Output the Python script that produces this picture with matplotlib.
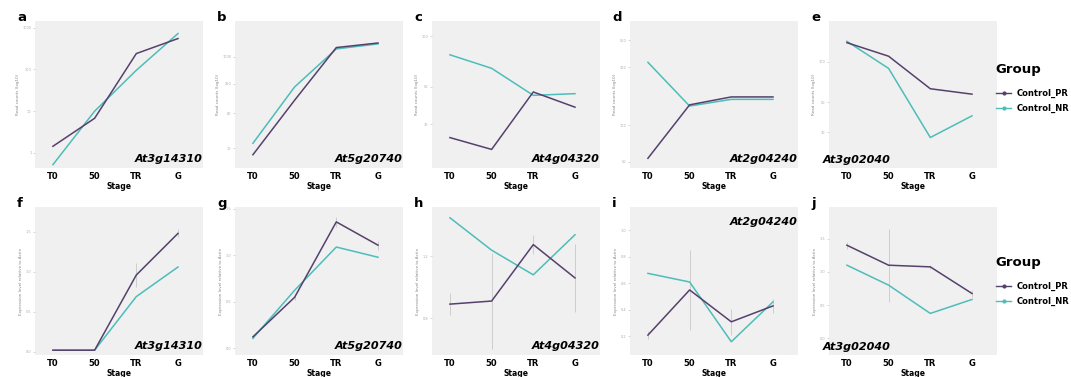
import matplotlib
matplotlib.use("Agg")
import matplotlib.pyplot as plt
import numpy as np

stages = ["T0", "50", "TR", "G"]
groups = ["Control_PR", "Control_NR"]
colors = {"Control_PR": "#56406C", "Control_NR": "#4DBDB9"}

# Row 1: read counts (log10 scale values)
genes_top = ["At3g14310", "At5g20740", "At4g04320", "At2g04240", "At3g02040"]
pr_top = [
    [0.16, 0.83, 2.38, 2.74],
    [0.86, 2.05, 3.20, 3.30],
    [1.40, 1.33, 1.67, 1.58],
    [1.73, 2.17, 2.235, 2.235],
    [2.14, 2.04, 1.80, 1.76],
]
nr_top = [
    [-0.28, 1.00, 1.98, 2.86],
    [1.11, 2.34, 3.17, 3.28],
    [1.89, 1.81, 1.65, 1.66],
    [2.52, 2.16, 2.215, 2.215],
    [2.15, 1.95, 1.44, 1.60],
]
ylim_top = [(-0.36, 3.16), (0.57, 3.78), (1.22, 2.09), (1.65, 2.86), (1.215, 2.30)]
yticks_top = [[0, 1, 2, 3], [1, 1.77, 2.41, 3], [1.48, 1.7, 2.0], [1.7, 2.0, 2.48, 2.7], [1.48, 1.7, 2.0]]
yticklabels_top = [["1", "10", "100", "1000"], ["10", "60", "250", "1000"], ["30", "50", "100"],
                   ["50", "100", "300", "500"], ["30", "50", "100"]]

# Row 2: expression level relative to Actin
genes_bot = ["At3g14310", "At5g20740", "At4g04320", "At2g04240", "At3g02040"]
pr_bot = [
    [0.02, 0.02, 0.96, 1.48],
    [0.125, 0.55, 1.36, 1.11],
    [0.89, 0.91, 1.276, 1.06],
    [0.21, 0.55, 0.31, 0.43],
    [1.40, 1.10, 1.075, 0.675],
]
nr_bot = [
    [0.02, 0.02, 0.69, 1.06],
    [0.11, 0.625, 1.09, 0.98],
    [1.45, 1.24, 1.08, 1.34],
    [0.675, 0.61, 0.16, 0.46],
    [1.10, 0.80, 0.375, 0.585],
]
pr_err_bot = [
    [0.0, 0.0, 0.15, 0.05],
    [0.02, 0.03, 0.05, 0.05],
    [0.07, 0.31, 0.06, 0.22],
    [0.03, 0.30, 0.10, 0.05],
    [0.05, 0.55, 0.03, 0.05],
]
ylim_bot = [(-0.04, 1.81), (-0.07, 1.52), (0.56, 1.52), (0.06, 1.175), (-0.25, 1.975)]
yticks_bot = [[0, 0.5, 1.0, 1.5], [0, 0.5, 1.0, 1.5], [0.8, 1.2], [0.2, 0.4, 0.6, 0.8, 1.0], [0, 0.5, 1.0, 1.5]]

letters_top = ["a", "b", "c", "d", "e"]
letters_bot = ["f", "g", "h", "i", "j"]

W, H = 1071, 377
fig = plt.figure(figsize=(W / 100, H / 100), dpi=100)
fig.patch.set_facecolor("white")

lefts = [35, 235, 432, 630, 829]
aw = 168
rows = [(21, 168), (207, 355)]
x = np.arange(len(stages))

def make_ax(left, top, bottom):
    return fig.add_axes([left / W, (H - bottom) / H, aw / W, (bottom - top) / H])

def style(ax, ylabel, yt, ytl=None):
    ax.set_facecolor("#F0F0F0")
    for s in ax.spines.values():
        s.set_visible(False)
    ax.set_xlim(-0.43, 3.6)
    ax.set_xticks(x)
    ax.set_xticklabels(stages, fontsize=6, fontweight="bold")
    ax.tick_params(axis="x", length=0, pad=3)
    ax.tick_params(axis="y", length=1.5, width=0.4, color="#BBBBBB", labelsize=2.5,
                   labelcolor="#AAAAAA", pad=1)
    ax.set_yticks(yt)
    if ytl is not None:
        ax.set_yticklabels(ytl)
    ax.set_xlabel("Stage", fontsize=5.5, fontweight="bold", labelpad=0.5)
    ax.set_ylabel(ylabel, fontsize=3, color="#888888", labelpad=2)

gene_pos_top = ["br", "br", "br", "br", "bl"]
gene_pos_bot = ["br", "br", "br", "tr", "bl"]

def gene_label(ax, name, pos):
    kw = dict(fontsize=8, fontweight="bold", style="italic", transform=ax.transAxes, zorder=5)
    if pos == "br":
        ax.text(0.995, 0.03, name, ha="right", va="bottom", **kw)
    elif pos == "tr":
        ax.text(0.995, 0.93, name, ha="right", va="top", **kw)
    else:
        ax.text(-0.04, 0.02, name, ha="left", va="bottom", **kw)

for i in range(5):
    # top row
    top, bottom = rows[0]
    ax = make_ax(lefts[i], top, bottom)
    ax.plot(x, pr_top[i], color=colors["Control_PR"], lw=1.1, zorder=3)
    ax.plot(x, nr_top[i], color=colors["Control_NR"], lw=1.1, zorder=2)
    ax.set_ylim(*ylim_top[i])
    style(ax, "Read counts (log10)", yticks_top[i], yticklabels_top[i])
    gene_label(ax, genes_top[i], gene_pos_top[i])
    fig.text((lefts[i] - 18) / W, (H - top) / H, letters_top[i], fontsize=9.5,
             fontweight="bold", ha="left", va="baseline")

    # bottom row
    top, bottom = rows[1]
    ax = make_ax(lefts[i], top, bottom)
    ax.errorbar(x, pr_bot[i], yerr=pr_err_bot[i], fmt="none", ecolor="#C8C8C8",
                elinewidth=0.6, capsize=0, zorder=1)
    ax.plot(x, pr_bot[i], color=colors["Control_PR"], lw=1.1, zorder=3)
    ax.plot(x, nr_bot[i], color=colors["Control_NR"], lw=1.1, zorder=2)
    ax.set_ylim(*ylim_bot[i])
    style(ax, "Expression level relative to Actin", yticks_bot[i])
    gene_label(ax, genes_bot[i], gene_pos_bot[i])
    fig.text((lefts[i] - 18) / W, (H - top) / H, letters_bot[i], fontsize=9.5,
             fontweight="bold", ha="left", va="baseline")

# legends
for ytop in (63, 256):
    fig.text(995 / W, (H - ytop) / H, "Group", fontsize=9.5, fontweight="bold", va="top", ha="left")
    for k, g in enumerate(groups):
        yy = (H - (ytop + 30 + 15 * k)) / H
        fig.add_artist(plt.Line2D([996 / W, 1011 / W], [yy, yy], color=colors[g], lw=1.0,
                                  transform=fig.transFigure))
        fig.add_artist(plt.Line2D([1003.5 / W], [yy], color=colors[g], marker="o", markersize=2,
                                  lw=0, transform=fig.transFigure))
        fig.text(1017 / W, yy, g, fontsize=6, fontweight="bold", va="center", ha="left")

fig.savefig("out.png", dpi=100)
